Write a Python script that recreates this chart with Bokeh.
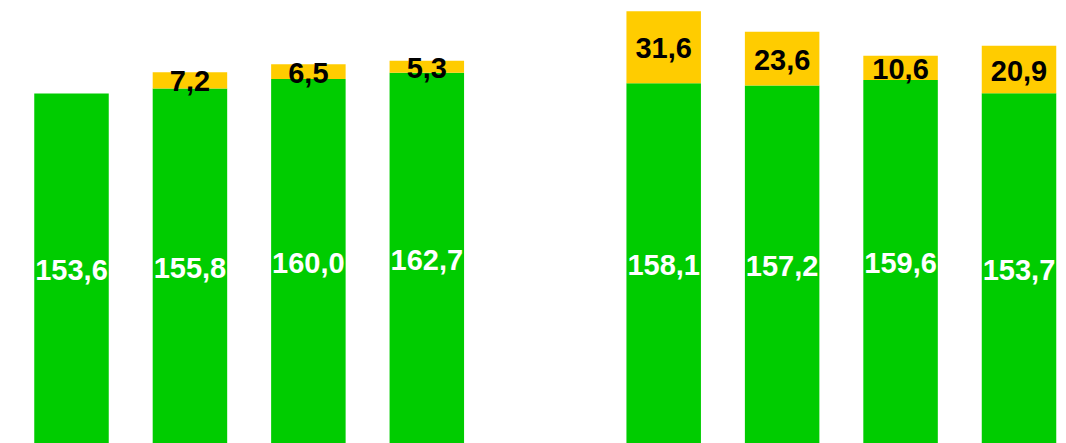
from bokeh.plotting import figure
from bokeh.models import ColumnDataSource, Range1d
from bokeh.core.properties import value
from bokeh.embed import file_html
from bokeh.resources import INLINE

# data
base_values = [153.6, 155.8, 160.0, 162.7, 158.1, 157.2, 159.6, 153.7]
extra_values = [0.0, 7.2, 6.5, 5.3, 31.6, 23.6, 10.6, 20.9]

GREEN = "#00CC00"
YELLOW = "#FFCC00"

def fmt(v):
    return f"{v:.1f}".replace(".", ",")

# two groups of four with an empty slot between
xs = [i if i < 4 else i + 1 for i in range(len(base_values))]
tops = [b + e for b, e in zip(base_values, extra_values)]

src = ColumnDataSource(dict(
    x=xs,
    base=base_values,
    top=tops,
    gmid=[b / 2 for b in base_values],
    glab=[fmt(b) for b in base_values],
))

ysrc = ColumnDataSource(dict(
    x=[x for x, e in zip(xs, extra_values) if e > 0],
    ymid=[b + e / 2 for b, e in zip(base_values, extra_values) if e > 0],
    ylab=[fmt(e) for e in extra_values if e > 0],
))

p = figure(width=1066, height=443, output_backend="svg", toolbar_location=None,
           x_range=Range1d(-0.5995, 8.401), y_range=Range1d(0, 194.47),
           min_border=0, min_border_left=0, min_border_right=0,
           min_border_top=0, min_border_bottom=0)
p.axis.visible = False
p.grid.visible = False
p.outline_line_color = None
p.background_fill_color = "white"
p.border_fill_color = "white"

W = 0.629
p.vbar(x="x", bottom=0, top="base", width=W, source=src,
       fill_color=GREEN, line_color=None)
p.vbar(x="x", bottom="base", top="top", width=W, source=src,
       fill_color=YELLOW, line_color=None)

p.text(x="x", y="gmid", text="glab", source=src,
       text_font=value("Liberation Sans"), text_font_style="bold",
       text_font_size="29px", text_color="white",
       text_align="center", text_baseline="middle", y_offset=1.5)
p.text(x="x", y="ymid", text="ylab", source=ysrc,
       text_font=value("Liberation Sans"), text_font_style="bold",
       text_font_size="29px", text_color="black",
       text_align="center", text_baseline="middle", y_offset=1)

open("out.html", "w").write(file_html(p, INLINE))
